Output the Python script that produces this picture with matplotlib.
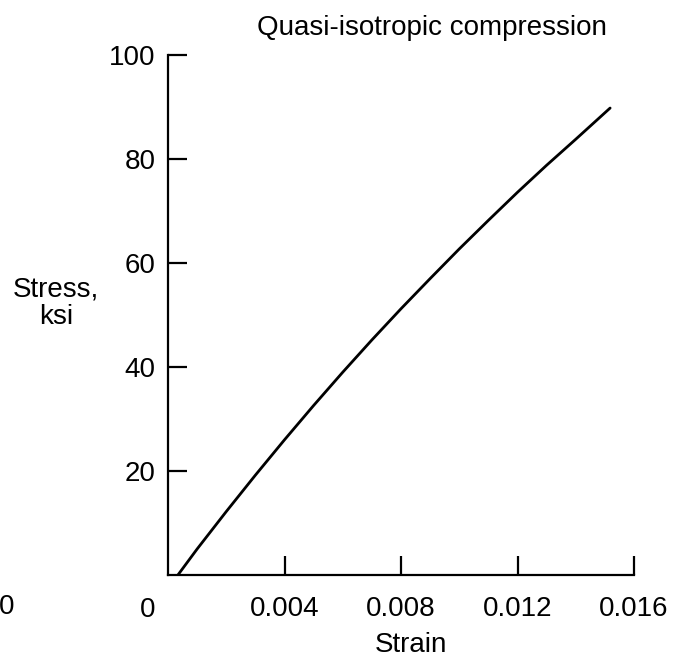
import numpy as np
import matplotlib
matplotlib.use("Agg")
import matplotlib.pyplot as plt

plt.rcParams['font.family'] = ['Liberation Sans', 'DejaVu Sans']

# curve
strain = [0.00034, 0.001, 0.002, 0.003, 0.004, 0.005, 0.006, 0.007,
          0.008, 0.009, 0.010, 0.011, 0.012, 0.013, 0.014, 0.01518]
stress = [0.0, 5.0, 12.2, 19.2, 26.0, 32.6, 39.0, 45.2,
          51.2, 57.0, 62.7, 68.2, 73.6, 78.8, 83.8, 89.8]

x_ticks = [0.004, 0.008, 0.012, 0.016]
x_labels = ['0.004', '0.008', '0.012', '0.016']
y_ticks = [20, 40, 60, 80, 100]
y_labels = ['20', '40', '60', '80', '100']

fs = 20

fig = plt.figure(figsize=(6.82, 6.66), dpi=100)
ax = fig.add_axes([168/682, 1-575/666, (634-168)/682, (575-55)/666])

ax.plot(strain, stress, color='black', lw=2.0, solid_capstyle='round',
        solid_joinstyle='round')

ax.set_xlim(0, 0.016)
ax.set_ylim(0, 100)
ax.spines['top'].set_visible(False)
ax.spines['right'].set_visible(False)
ax.spines['left'].set_linewidth(1.6)
ax.spines['bottom'].set_linewidth(1.6)

ax.set_xticks(x_ticks)
ax.set_xticklabels(x_labels)
ax.set_yticks(y_ticks)
ax.set_yticklabels(y_labels)
ax.tick_params(axis='both', direction='in', length=14, width=1.6, labelsize=fs)
ax.tick_params(axis='x', pad=15)
ax.tick_params(axis='y', pad=9)

# the "0" under the origin sits left of the axis, plus a stray one at the far left
ax.text(-0.00069, -22/520, '0', fontsize=fs, ha='center', va='top',
        transform=ax.get_xaxis_transform(), clip_on=False)
fig.text(7/682, 1-607/666, '0', fontsize=fs, ha='center', va='center')

fig.text(432/682, 1-28/666, 'Quasi-isotropic compression', fontsize=fs, ha='center', va='center')
fig.text(411/682, 1-645/666, 'Strain', fontsize=fs, ha='center', va='center')
fig.text(56/682, 1-303/666, 'Stress,\nksi', fontsize=fs, ha='center', va='center',
         multialignment='center', linespacing=1.05)

fig.savefig('out.png', dpi=100)
